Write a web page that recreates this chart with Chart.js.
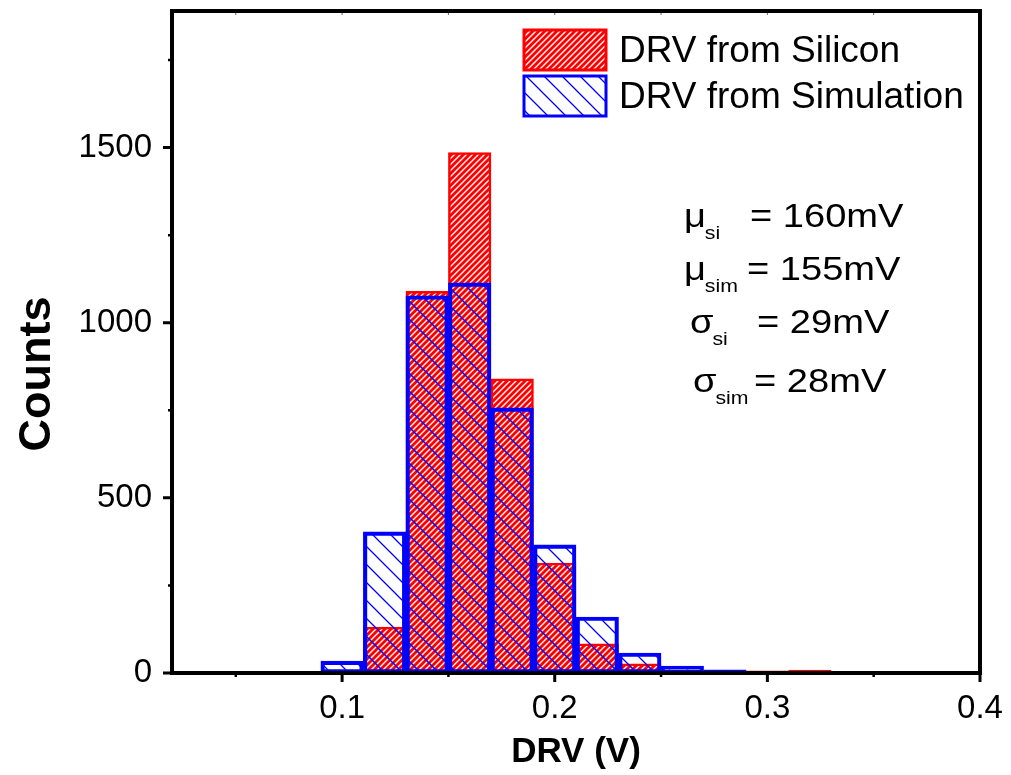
<!DOCTYPE html>
<html>
<head>
<meta charset="utf-8">
<script src="https://cdn.jsdelivr.net/npm/chart.js@4.4.1/dist/chart.umd.min.js"></script>
<style>
  body { margin: 0; background: #fff; }
  #wrap { width: 1011px; height: 775px; }
</style>
</head>
<body>
<div id="wrap"><canvas id="myChart" width="1011" height="775"></canvas></div>
<script>
// histogram bins (V), width 0.02
const binCenters = [0.10, 0.12, 0.14, 0.16, 0.18, 0.20, 0.22, 0.24, 0.26, 0.28, 0.30, 0.32];
const siliconCounts = [3, 131, 1090, 1486, 840, 314, 83, 26, 3, 2, 6, 8];
const simulationCounts = [34, 403, 1077, 1114, 757, 366, 160, 57, 20, 9, null, null];

const xTickValues = [0.1, 0.2, 0.3, 0.4];
const xMinorTicks = [0.05, 0.15, 0.25, 0.35];
const yTickValues = [0, 500, 1000, 1500];
const yMinorTicks = [250, 750, 1250, 1750];

const legendLabels = ["DRV from Silicon", "DRV from Simulation"];
const statSymbols = ["\u03bc", "\u03bc", "\u03c3", "\u03c3"];
const statSubs = ["si", "sim", "si", "sim"];
const statValues = ["= 160mV", "= 155mV", "= 29mV", "= 28mV"];

const FONT = "'Liberation Sans', Arial, sans-serif";

function makeStripes(size, color, width, dir, bg) {
  const c = document.createElement("canvas");
  c.width = size;
  c.height = size;
  const g = c.getContext("2d");
  if (bg) {
    g.fillStyle = bg;
    g.fillRect(0, 0, size, size);
  }
  g.strokeStyle = color;
  g.lineWidth = width;
  g.beginPath();
  for (let k = -1; k <= 1; k++) {
    if (dir === "/") {
      g.moveTo(-size, (2 + k) * size);
      g.lineTo(2 * size, (k - 1) * size);
    } else {
      g.moveTo(-size, (k - 1) * size);
      g.lineTo(2 * size, (k + 2) * size);
    }
  }
  g.stroke();
  return g.createPattern(c, "repeat");
}

const ctx = document.getElementById("myChart").getContext("2d");
const redPattern = makeStripes(6, "#ff0000", 2.9, "/", "#ffffff");
const bluePattern = makeStripes(18, "#0000ff", 1.3, "\\", null);

function noPad(s) {
  s.paddingTop = 0;
  s.paddingBottom = 0;
  s.paddingLeft = 0;
  s.paddingRight = 0;
}

const decorations = {
  id: "decorations",
  afterDraw(chart) {
    const c = chart.ctx;
    const xs = chart.scales.x;
    const ys = chart.scales.y;
    const a = chart.chartArea;
    c.save();

    // ticks
    c.strokeStyle = "#000";
    c.lineWidth = 3;
    c.beginPath();
    xTickValues.forEach(v => {
      const px = xs.getPixelForValue(v);
      c.moveTo(px, a.bottom);
      c.lineTo(px, a.bottom + 9);
    });
    yTickValues.forEach(v => {
      const py = ys.getPixelForValue(v);
      c.moveTo(a.left, py);
      c.lineTo(a.left - 9, py);
    });
    c.stroke();
    c.lineWidth = 2.5;
    c.beginPath();
    xMinorTicks.forEach(v => {
      const px = xs.getPixelForValue(v);
      c.moveTo(px, a.bottom);
      c.lineTo(px, a.bottom + 4);
    });
    yMinorTicks.forEach(v => {
      const py = ys.getPixelForValue(v);
      c.moveTo(a.left, py);
      c.lineTo(a.left - 4, py);
    });
    c.stroke();
    c.lineWidth = 1;
    c.strokeStyle = "#666";
    c.beginPath();
    xTickValues.concat(xMinorTicks).forEach(v => {
      const px = xs.getPixelForValue(v);
      c.moveTo(px, a.top);
      c.lineTo(px, a.top + 4);
    });
    c.stroke();

    // frame
    c.strokeStyle = "#000";
    c.lineWidth = 4;
    c.strokeRect(a.left, a.top, a.right - a.left, a.bottom - a.top);

    // axis titles
    c.fillStyle = "#000";
    c.font = "bold 35px " + FONT;
    c.textAlign = "center";
    c.textBaseline = "alphabetic";
    c.fillText("DRV (V)", (a.left + a.right) / 2, 762);
    c.save();
    c.translate(50, 374);
    c.rotate(-Math.PI / 2);
    c.font = "bold 45px " + FONT;
    c.fillText("Counts", 0, 0);
    c.restore();

    // legend
    const fills = [redPattern, bluePattern];
    const strokes = ["#ff0000", "#0000ff"];
    const boxTop = [30, 76];
    const textBase = [62, 108];
    c.textAlign = "left";
    c.font = "37px " + FONT;
    for (let i = 0; i < 2; i++) {
      c.fillStyle = fills[i];
      c.fillRect(524, boxTop[i], 82, 40);
      c.lineWidth = 3;
      c.strokeStyle = strokes[i];
      c.strokeRect(524, boxTop[i], 82, 40);
      c.fillStyle = "#000";
      c.fillText(legendLabels[i], 619, textBase[i]);
    }

    // statistics (text is a bit stretched horizontally in the original)
    const stretch = 1.12;
    const symX = [684, 684, 690, 693];
    const eqX = [750, 747, 757, 754];
    const base = [227, 280, 333, 392];
    for (let i = 0; i < 4; i++) {
      c.save();
      c.translate(symX[i], base[i]);
      c.scale(stretch, 1);
      c.font = "34px " + FONT;
      c.fillText(statSymbols[i], 0, 0);
      const w = c.measureText(statSymbols[i]).width;
      c.fillText(statValues[i], (eqX[i] - symX[i]) / stretch, 0);
      c.font = "19px " + FONT;
      c.fillText(statSubs[i], w - 1, 12);
      c.restore();
    }
    c.restore();
  }
};

const myChart = new Chart(ctx, {
  type: "bar",
  data: {
    datasets: [
      {
        label: legendLabels[0],
        data: binCenters.map((x, i) => ({ x: x, y: siliconCounts[i] })),
        backgroundColor: redPattern,
        borderColor: "#ff0000",
        borderWidth: 2.5,
        order: 1
      },
      {
        label: legendLabels[1],
        data: binCenters.map((x, i) => ({ x: x, y: simulationCounts[i] })),
        backgroundColor: bluePattern,
        borderColor: "#0000ff",
        borderWidth: 3.5,
        order: 0
      }
    ]
  },
  options: {
    responsive: false,
    animation: false,
    grouped: false,
    barPercentage: 1,
    categoryPercentage: 1,
    borderSkipped: false,
    layout: { padding: { top: 11, right: 31, left: 0, bottom: 0 } },
    plugins: {
      legend: { display: false },
      tooltip: { enabled: false }
    },
    scales: {
      x: {
        type: "linear",
        offset: false,
        min: 0.02,
        max: 0.4,
        grid: { display: false, drawTicks: false },
        border: { display: false },
        afterBuildTicks: s => { s.ticks = xTickValues.map(v => ({ value: v })); },
        afterFit: s => { s.height = 102; noPad(s); },
        ticks: {
          color: "#000",
          padding: 16,
          font: { family: FONT, size: 33 },
          callback: v => v.toFixed(1)
        }
      },
      y: {
        min: 0,
        max: 1890,
        grid: { display: false, drawTicks: false },
        border: { display: false },
        afterBuildTicks: s => { s.ticks = yTickValues.map(v => ({ value: v })); },
        afterFit: s => { s.width = 172; noPad(s); },
        ticks: {
          color: "#000",
          padding: 20,
          font: { family: FONT, size: 33 },
          callback: v => String(v)
        }
      }
    }
  },
  plugins: [decorations]
});
</script>
</body>
</html>
